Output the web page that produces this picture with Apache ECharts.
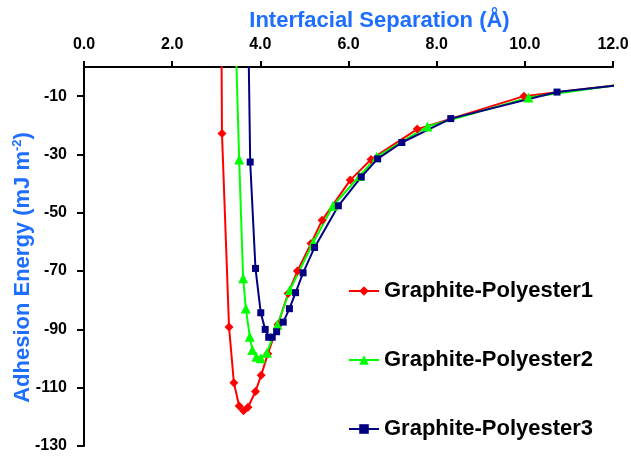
<!DOCTYPE html>
<html>
<head>
<meta charset="utf-8">
<script src="https://cdn.jsdelivr.net/npm/echarts@6/dist/echarts.min.js"></script>
<style>
html,body{margin:0;padding:0;background:#fff;}
#chart{width:631px;height:456px;}
</style>
</head>
<body>
<div id="chart"></div>
<script>
// Series names
const seriesNames = ['Graphite-Polyester1', 'Graphite-Polyester2', 'Graphite-Polyester3'];

// Graphite-Polyester1 (red, diamonds)
const gp1X = [3.11, 3.13, 3.29, 3.40, 3.52, 3.62, 3.72, 3.89, 4.02, 4.17, 4.40, 4.63, 4.84, 5.15, 5.40, 6.04, 6.51, 7.56, 9.98, 12.1];
const gp1Y = [30, -22.8, -89.2, -108.3, -116.3, -117.9, -116.7, -111.3, -105.7, -98.4, -88.3, -77.7, -70.0, -60.5, -52.6, -38.8, -31.7, -21.3, -10.0, -6.2];

// Graphite-Polyester2 (green, triangles)
const gp2X = [3.43, 3.52, 3.61, 3.67, 3.76, 3.82, 3.91, 4.01, 4.15, 4.39, 4.67, 5.20, 5.65, 6.25, 6.64, 7.79, 10.08, 12.1];
const gp2Y = [15, -31.7, -72.5, -82.8, -92.5, -97.1, -99.4, -99.9, -98.0, -88.4, -76.5, -60.2, -47.6, -37.4, -30.8, -20.4, -10.5, -6.2];

// Graphite-Polyester3 (navy, squares)
const gp3X = [3.72, 3.77, 3.89, 4.01, 4.11, 4.19, 4.27, 4.37, 4.52, 4.66, 4.80, 4.97, 5.23, 5.77, 6.29, 6.66, 7.21, 8.32, 10.73, 12.1];
const gp3Y = [20, -32.6, -69.1, -84.3, -90.0, -92.7, -92.7, -90.8, -87.5, -82.9, -77.4, -70.6, -61.9, -47.6, -37.7, -31.5, -25.9, -17.7, -8.6, -6.3];

// Axis ticks
const xTicks = [0, 2, 4, 6, 8, 10, 12];
const yTicks = [-130, -110, -90, -70, -50, -30, -10];

const zip = (xs, ys) => xs.map((x, i) => [x, ys[i]]);

const FONT = 'Liberation Sans, Arial, sans-serif';
const tickFont = {color: '#000', fontFamily: FONT, fontWeight: 'bold', fontSize: 16};
const titleBlue = '#1e6fff';

const chart = echarts.init(document.getElementById('chart'), null, {renderer: 'canvas'});
chart.setOption({
  animation: false,
  backgroundColor: '#fff',
  grid: {left: 84, right: 18, top: 67, bottom: 10, containLabel: false, outerBoundsMode: 'none'},
  xAxis: {
    type: 'value',
    position: 'top',
    min: 0, max: 12, interval: 2,
    name: 'Interfacial Separation (Å)',
    nameLocation: 'middle',
    nameGap: 32,
    nameTextStyle: {color: titleBlue, fontFamily: FONT, fontWeight: 'bold', fontSize: 22, padding: [0, 0, 0, 62]},
    axisLine: {show: true, onZero: false, lineStyle: {color: '#000', width: 2}},
    axisTick: {show: true, inside: false, length: 6, lineStyle: {color: '#000', width: 2}},
    axisLabel: Object.assign({margin: 14, formatter: v => xTicks.includes(v) ? v.toFixed(1) : ''}, tickFont),
    splitLine: {show: false}
  },
  yAxis: {
    type: 'value',
    min: -130, max: 0,
    name: 'Adhesion Energy (mJ m{sup|-2})',
    nameLocation: 'middle',
    nameGap: 50,
    nameMoveOverlap: false,
    nameRotate: 90,
    nameTextStyle: {
      color: titleBlue, fontFamily: FONT, fontWeight: 'bold', fontSize: 22, padding: [0, 22, 0, 0],
      rich: {sup: {color: titleBlue, fontFamily: FONT, fontWeight: 'bold', fontSize: 13, verticalAlign: 'top', padding: [0, 0, 10, 0]}}
    },
    axisLine: {show: true, onZero: false, lineStyle: {color: '#000', width: 2}},
    axisTick: {show: true, inside: false, length: 7, customValues: yTicks, lineStyle: {color: '#000', width: 2}},
    axisLabel: Object.assign({margin: 17, customValues: yTicks, formatter: v => String(v)}, tickFont),
    splitLine: {show: false}
  },
  legend: {
    orient: 'vertical',
    left: 343,
    top: 275,
    itemWidth: 30,
    itemHeight: 12,
    itemGap: 47,
    textStyle: {color: '#000', fontFamily: FONT, fontWeight: 'bold', fontSize: 22},
    data: seriesNames
  },
  series: [
    {
      name: seriesNames[0], type: 'line', data: zip(gp1X, gp1Y), clip: true,
      symbol: 'diamond', symbolSize: 9,
      lineStyle: {color: '#ff0000', width: 2}, itemStyle: {color: '#ff0000'}
    },
    {
      name: seriesNames[1], type: 'line', data: zip(gp2X, gp2Y), clip: true,
      symbol: 'triangle', symbolSize: 10,
      lineStyle: {color: '#00ff00', width: 2}, itemStyle: {color: '#00ff00'}
    },
    {
      name: seriesNames[2], type: 'line', data: zip(gp3X, gp3Y), clip: true,
      symbol: 'rect', symbolSize: 7,
      lineStyle: {color: '#000080', width: 2}, itemStyle: {color: '#000080'}
    }
  ]
});
</script>
</body>
</html>
